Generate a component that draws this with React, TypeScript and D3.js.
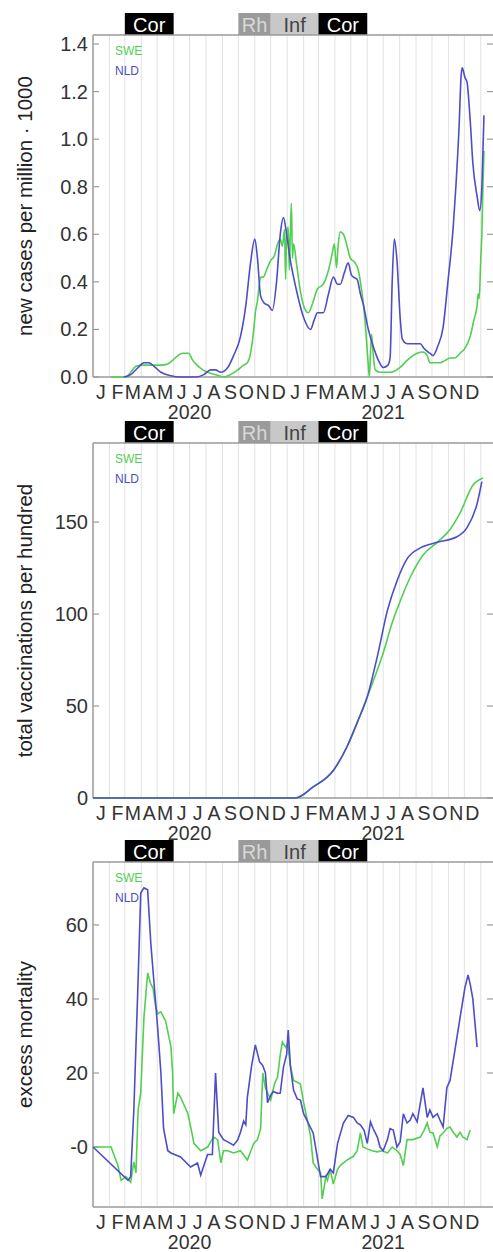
import React from 'react';
import * as d3 from 'd3';

// season bands shown above each panel
const seasonLabels = ['Cor', 'Rh', 'Inf', 'Cor'];
const seasonStarts = ['2020-03-01', '2020-10-01', '2020-12-01', '2021-03-01'];
const seasonEnds = ['2020-06-01', '2020-12-01', '2021-03-01', '2021-06-01'];

const monthLetters = ['J', 'F', 'M', 'A', 'M', 'J', 'J', 'A', 'S', 'O', 'N', 'D'];
const years = [2020, 2021];

const casesTicks = [0, 0.2, 0.4, 0.6, 0.8, 1.0, 1.2, 1.4];
const vaccTicks = [0, 50, 100, 150];
const vaccTickLabels = ['0', '50', '100', '150'];
const mortTicks = [0, 20, 40, 60];
const mortTickLabels = ['-0', '20', '40', '60'];

const casesNLD: [string, number][] = [
  ['2020-02-28', 0], ['2020-03-12', 0.01], ['2020-03-26', 0.04], ['2020-04-06', 0.06], ['2020-04-15', 0.06],
  ['2020-04-25', 0.045], ['2020-05-08', 0.02], ['2020-05-27', 0.005], ['2020-06-14', 0], ['2020-07-13', 0],
  ['2020-07-28', 0.01], ['2020-08-10', 0.03], ['2020-08-19', 0.03], ['2020-08-29', 0.02], ['2020-09-11', 0.04],
  ['2020-09-22', 0.09], ['2020-10-05', 0.17], ['2020-10-15', 0.3], ['2020-10-24', 0.48], ['2020-11-01', 0.58],
  ['2020-11-06', 0.5], ['2020-11-12', 0.34], ['2020-11-19', 0.31], ['2020-11-27', 0.3], ['2020-12-04', 0.28],
  ['2020-12-12', 0.4], ['2020-12-19', 0.6], ['2020-12-25', 0.67], ['2020-12-31', 0.6], ['2021-01-07', 0.49],
  ['2021-01-15', 0.4], ['2021-01-20', 0.35], ['2021-02-01', 0.25], ['2021-02-14', 0.2], ['2021-02-21', 0.24],
  ['2021-02-27', 0.27], ['2021-03-10', 0.27], ['2021-03-20', 0.35], ['2021-03-29', 0.42], ['2021-04-06', 0.39],
  ['2021-04-11', 0.39], ['2021-04-19', 0.44], ['2021-04-26', 0.48], ['2021-05-02', 0.43], ['2021-05-06', 0.42],
  ['2021-05-13', 0.41], ['2021-05-19', 0.35], ['2021-05-24', 0.31], ['2021-06-03', 0.2], ['2021-06-12', 0.13],
  ['2021-06-22', 0.07], ['2021-07-01', 0.04], ['2021-07-10', 0.05], ['2021-07-14', 0.08], ['2021-07-18', 0.4],
  ['2021-07-22', 0.58], ['2021-07-27', 0.49], ['2021-08-02', 0.25], ['2021-08-06', 0.16], ['2021-08-15', 0.14],
  ['2021-08-26', 0.14], ['2021-09-09', 0.14], ['2021-09-16', 0.12], ['2021-09-27', 0.1], ['2021-10-03', 0.09],
  ['2021-10-12', 0.13], ['2021-10-22', 0.21], ['2021-10-31', 0.4], ['2021-11-10', 0.63], ['2021-11-15', 0.8],
  ['2021-11-21', 1.05], ['2021-11-25', 1.27], ['2021-11-27', 1.3], ['2021-12-02', 1.26], ['2021-12-06', 1.24],
  ['2021-12-12', 1.08], ['2021-12-17', 0.9], ['2021-12-25', 0.76], ['2021-12-30', 0.7], ['2022-01-03', 0.8],
  ['2022-01-05', 0.95], ['2022-01-07', 1.1],
];

const casesSWE: [string, number][] = [
  ['2020-02-04', 0], ['2020-03-03', 0], ['2020-03-12', 0.02], ['2020-03-22', 0.045], ['2020-04-04', 0.05],
  ['2020-04-19', 0.05], ['2020-05-08', 0.05], ['2020-05-21', 0.055], ['2020-05-30', 0.07], ['2020-06-09', 0.09],
  ['2020-06-18', 0.1], ['2020-06-29', 0.1], ['2020-07-07', 0.07], ['2020-07-15', 0.05], ['2020-07-26', 0.03],
  ['2020-08-04', 0.02], ['2020-08-19', 0.01], ['2020-09-03', 0], ['2020-09-16', 0.01], ['2020-09-30', 0.03],
  ['2020-10-11', 0.05], ['2020-10-18', 0.06], ['2020-10-24', 0.1], ['2020-10-30', 0.2], ['2020-11-02', 0.27],
  ['2020-11-06', 0.32], ['2020-11-12', 0.42], ['2020-11-17', 0.42], ['2020-11-23', 0.45], ['2020-12-01', 0.49],
  ['2020-12-08', 0.51], ['2020-12-14', 0.56], ['2020-12-19', 0.58], ['2020-12-23', 0.55], ['2020-12-27', 0.62],
  ['2020-12-29', 0.41], ['2020-12-31', 0.6], ['2021-01-03', 0.63], ['2021-01-05', 0.45], ['2021-01-07', 0.6],
  ['2021-01-09', 0.73], ['2021-01-11', 0.5], ['2021-01-13', 0.56], ['2021-01-19', 0.47], ['2021-01-26', 0.36],
  ['2021-02-01', 0.3], ['2021-02-10', 0.27], ['2021-02-18', 0.31], ['2021-02-27', 0.37], ['2021-03-10', 0.39],
  ['2021-03-20', 0.45], ['2021-03-27', 0.52], ['2021-03-31', 0.56], ['2021-04-04', 0.46], ['2021-04-07', 0.55],
  ['2021-04-11', 0.61], ['2021-04-17', 0.6], ['2021-04-24', 0.55], ['2021-04-30', 0.5], ['2021-05-09', 0.48],
  ['2021-05-15', 0.45], ['2021-05-21', 0.37], ['2021-05-26', 0.28], ['2021-05-30', 0.17], ['2021-06-03', 0.05],
  ['2021-06-05', 0], ['2021-06-07', 0.1], ['2021-06-09', 0.18], ['2021-06-12', 0.1], ['2021-06-16', 0.03],
  ['2021-06-25', 0.02], ['2021-07-14', 0.02], ['2021-08-02', 0.04], ['2021-08-15', 0.07], ['2021-08-26', 0.09],
  ['2021-09-03', 0.1], ['2021-09-14', 0.105], ['2021-09-22', 0.09], ['2021-09-27', 0.06], ['2021-10-16', 0.06],
  ['2021-10-26', 0.07], ['2021-11-04', 0.08], ['2021-11-13', 0.08], ['2021-11-23', 0.1], ['2021-12-02', 0.12],
  ['2021-12-12', 0.17], ['2021-12-19', 0.24], ['2021-12-25', 0.3], ['2021-12-27', 0.35], ['2021-12-29', 0.33],
  ['2022-01-01', 0.5], ['2022-01-03', 0.6], ['2022-01-05', 0.8], ['2022-01-07', 0.95],
];

const vaccNLD: [string, number][] = [
  ['2020-01-01', 0], ['2021-01-17', 0], ['2021-02-19', 6], ['2021-03-29', 15], ['2021-04-24', 28],
  ['2021-05-13', 41], ['2021-06-01', 55], ['2021-06-20', 77], ['2021-07-09', 102], ['2021-07-27', 118],
  ['2021-08-15', 130], ['2021-09-09', 136], ['2021-10-11', 139], ['2021-11-17', 142], ['2021-12-06', 147],
  ['2021-12-25', 160], ['2022-01-03', 172],
];

const vaccSWE: [string, number][] = [
  ['2020-01-01', 0], ['2021-01-15', 0], ['2021-02-19', 6], ['2021-03-29', 15], ['2021-04-24', 28],
  ['2021-05-13', 41], ['2021-06-01', 55], ['2021-06-29', 77], ['2021-07-20', 97], ['2021-07-29', 104],
  ['2021-08-21', 120], ['2021-09-14', 132], ['2021-10-11', 139], ['2021-11-04', 146], ['2021-11-23', 155],
  ['2021-12-17', 170], ['2022-01-05', 174],
];

const mortNLD: [string, number][] = [
  ['2020-01-01', 0], ['2020-03-07', -9], ['2020-03-12', -8], ['2020-03-18', 10], ['2020-03-26', 45],
  ['2020-03-31', 68.6], ['2020-04-06', 70], ['2020-04-13', 69.5], ['2020-04-19', 55], ['2020-05-02', 32],
  ['2020-05-08', 20], ['2020-05-13', 5], ['2020-05-21', -1], ['2020-05-27', -1.6], ['2020-06-14', -2.7],
  ['2020-07-03', -5.4], ['2020-07-16', -4.3], ['2020-07-22', -7.6], ['2020-07-28', -5], ['2020-08-04', -2],
  ['2020-08-13', -2], ['2020-08-19', 20], ['2020-08-25', 4], ['2020-09-03', 2], ['2020-09-11', 1.4],
  ['2020-09-22', 0.5], ['2020-09-30', 2], ['2020-10-05', 4], ['2020-10-11', 7], ['2020-10-15', 6],
  ['2020-10-18', 13.5], ['2020-10-26', 22], ['2020-11-02', 27.6], ['2020-11-10', 23], ['2020-11-16', 22],
  ['2020-11-21', 20], ['2020-11-25', 12], ['2020-12-01', 14], ['2020-12-06', 15], ['2020-12-14', 14.5],
  ['2020-12-19', 14.6], ['2020-12-25', 21.6], ['2020-12-31', 25], ['2021-01-03', 31.6], ['2021-01-07', 22],
  ['2021-01-13', 15.4], ['2021-01-20', 13], ['2021-01-26', 12.7], ['2021-02-01', 9], ['2021-02-08', 7],
  ['2021-02-19', 3.8], ['2021-03-05', -8], ['2021-03-15', -8], ['2021-03-23', -6], ['2021-03-29', -7],
  ['2021-04-06', 1], ['2021-04-17', 6.5], ['2021-04-26', 8.5], ['2021-05-06', 8], ['2021-05-13', 6.5],
  ['2021-05-19', 6], ['2021-05-26', 4.5], ['2021-06-01', 1], ['2021-06-07', 6.8], ['2021-06-12', 5],
  ['2021-06-20', 2.7], ['2021-06-25', 0], ['2021-07-01', -1], ['2021-07-09', 2], ['2021-07-14', 5],
  ['2021-07-20', 4.6], ['2021-07-27', 0], ['2021-08-02', 1.4], ['2021-08-08', 9], ['2021-08-15', 6.5],
  ['2021-08-21', 7.3], ['2021-08-26', 9], ['2021-09-03', 6.8], ['2021-09-14', 16], ['2021-09-22', 8],
  ['2021-09-27', 10], ['2021-10-03', 8], ['2021-10-11', 9], ['2021-10-16', 7.3], ['2021-10-22', 5.4],
  ['2021-10-29', 16], ['2021-11-04', 18], ['2021-11-13', 26], ['2021-11-23', 35], ['2021-12-02', 43],
  ['2021-12-08', 46.5], ['2021-12-12', 44], ['2021-12-17', 40], ['2021-12-25', 27],
];

const mortSWE: [string, number][] = [
  ['2020-01-01', 0], ['2020-02-04', 0], ['2020-02-17', -5], ['2020-02-23', -9], ['2020-03-03', -8],
  ['2020-03-12', -9.5], ['2020-03-18', -4], ['2020-03-22', -7], ['2020-03-26', 10], ['2020-03-31', 14.6],
  ['2020-04-06', 35], ['2020-04-13', 47], ['2020-04-19', 44], ['2020-04-23', 43], ['2020-04-28', 38],
  ['2020-05-02', 36], ['2020-05-08', 36.5], ['2020-05-17', 34], ['2020-05-27', 27], ['2020-05-30', 20],
  ['2020-06-01', 9], ['2020-06-09', 14.6], ['2020-06-14', 13.5], ['2020-06-28', 9], ['2020-07-07', 2.7],
  ['2020-07-09', 1], ['2020-07-22', -1], ['2020-08-04', 0], ['2020-08-15', 2.7], ['2020-08-23', 2],
  ['2020-08-29', -4.3], ['2020-09-03', -1], ['2020-09-11', -1], ['2020-09-22', -1.6], ['2020-10-05', -1],
  ['2020-10-18', -3.5], ['2020-10-30', 1], ['2020-11-06', 2], ['2020-11-12', 5], ['2020-11-16', 20],
  ['2020-11-21', 16], ['2020-12-01', 12.7], ['2020-12-08', 17], ['2020-12-14', 19], ['2020-12-19', 25],
  ['2020-12-23', 28.4], ['2020-12-29', 27], ['2021-01-02', 28], ['2021-01-07', 22], ['2021-01-13', 18],
  ['2021-01-20', 17.5], ['2021-01-26', 17], ['2021-02-01', 12], ['2021-02-08', 7.3], ['2021-02-14', 3],
  ['2021-02-19', -4.3], ['2021-02-27', -6], ['2021-03-05', -7], ['2021-03-08', -14], ['2021-03-15', -8],
  ['2021-03-18', -9], ['2021-03-23', -6], ['2021-03-29', -10], ['2021-04-06', -6], ['2021-04-11', -5],
  ['2021-04-24', -3.5], ['2021-05-06', -2.5], ['2021-05-13', -1], ['2021-05-19', 3.8], ['2021-05-24', 0],
  ['2021-06-01', -0.5], ['2021-06-10', -1], ['2021-06-20', -1.3], ['2021-06-29', -1], ['2021-07-09', -1.6],
  ['2021-07-18', 0], ['2021-07-27', -1], ['2021-08-02', -2], ['2021-08-08', -5], ['2021-08-15', 2],
  ['2021-08-26', 2], ['2021-09-09', 2.7], ['2021-09-16', 4.5], ['2021-09-22', 6.5], ['2021-09-27', 4],
  ['2021-10-03', 3.8], ['2021-10-11', 0], ['2021-10-16', 3], ['2021-10-22', 3.8], ['2021-10-29', 5],
  ['2021-11-04', 5.4], ['2021-11-10', 4], ['2021-11-17', 2.7], ['2021-11-23', 4], ['2021-11-28', 2.7],
  ['2021-12-06', 2], ['2021-12-12', 4.6],
];

const W = 493;
const H = 1252;
const LEFT = 93;
const RIGHT = 493;
const GREEN = '#52cf52';
const BLUE = '#4d4dc8';
const AXIS = '#9a9a9a';
const TEXT = '#333';
const FONT = 'Liberation Sans, Arial, sans-serif';

const seasonStyle: Record<string, { fill: string; color: string }> = {
  Cor: { fill: '#000', color: '#fff' },
  Rh: { fill: '#9a9a9a', color: '#d8d8d8' },
  Inf: { fill: '#c8c8c8', color: '#444' },
};

const parse = d3.timeParse('%Y-%m-%d');

const x = d3.scaleTime()
  .domain([new Date(2020, 0, 1), new Date(2022, 0, 24)])
  .range([LEFT, RIGHT]);

const monthStarts = d3.timeMonth.range(new Date(2020, 1, 1), new Date(2022, 1, 1));
const allMonths = d3.timeMonth.range(new Date(2020, 0, 1), new Date(2022, 0, 1));

type Panel = {
  title: string;
  top: number;
  bottom: number;
  domain: [number, number];
  ticks: number[];
  labels: string[];
  swe: [string, number][];
  nld: [string, number][];
  curve: d3.CurveFactory;
};

const panels: Panel[] = [
  {
    title: 'new cases per million · 1000', top: 35, bottom: 377, domain: [0, 1.438],
    ticks: casesTicks, labels: casesTicks.map(d3.format('.1f')),
    swe: casesSWE, nld: casesNLD, curve: d3.curveMonotoneX,
  },
  {
    title: 'total vaccinations per hundred', top: 443, bottom: 798, domain: [0, 193],
    ticks: vaccTicks, labels: vaccTickLabels,
    swe: vaccSWE, nld: vaccNLD, curve: d3.curveMonotoneX,
  },
  {
    title: 'excess mortality', top: 862, bottom: 1207, domain: [-16.2, 77],
    ticks: mortTicks, labels: mortTickLabels,
    swe: mortSWE, nld: mortNLD, curve: d3.curveLinear,
  },
];

const PanelView = ({ p }: { p: Panel }) => {
  const y = d3.scaleLinear().domain(p.domain).range([p.bottom, p.top]);
  const line = d3.line<[string, number]>()
    .x(d => x(parse(d[0]) as Date))
    .y(d => y(d[1]))
    .curve(p.curve);
  const midY = (p.top + p.bottom) / 2;

  return (
    <g>
      {/* month grid */}
      {monthStarts.map((m, i) => (
        <line key={'g' + i} x1={x(m)} x2={x(m)} y1={p.top} y2={p.bottom} stroke="#e2e2e2" strokeWidth={1} />
      ))}

      {/* season bands */}
      {seasonLabels.map((s, i) => {
        const x0 = x(parse(seasonStarts[i]) as Date);
        const x1 = x(parse(seasonEnds[i]) as Date);
        const st = seasonStyle[s];
        return (
          <g key={'s' + i}>
            <rect x={x0} y={p.top - 22} width={x1 - x0} height={22} fill={st.fill} />
            <text x={(x0 + x1) / 2} y={p.top - 3} textAnchor="middle" fontSize={20} fill={st.color}>{s}</text>
          </g>
        );
      })}

      {/* frame */}
      <line x1={LEFT} x2={RIGHT} y1={p.top} y2={p.top} stroke={AXIS} strokeWidth={1.5} />
      <line x1={LEFT} x2={RIGHT} y1={p.bottom} y2={p.bottom} stroke={AXIS} strokeWidth={1.5} />
      <line x1={LEFT} x2={LEFT} y1={p.top} y2={p.bottom} stroke={AXIS} strokeWidth={1.5} />

      {/* y ticks */}
      {p.ticks.map((t, i) => (
        <g key={'t' + i}>
          <line x1={LEFT} x2={LEFT + 6} y1={y(t)} y2={y(t)} stroke={AXIS} strokeWidth={1.2} />
          <line x1={RIGHT - 6} x2={RIGHT} y1={y(t)} y2={y(t)} stroke={AXIS} strokeWidth={1.2} />
          <text x={88} y={y(t)} dy="0.35em" textAnchor="end" fontSize={20} fill={TEXT}>{p.labels[i]}</text>
        </g>
      ))}

      {/* x labels */}
      {allMonths.map((m, i) => (
        <text key={'m' + i} x={x(d3.timeDay.offset(m, 15))} y={p.bottom + 22} textAnchor="middle" fontSize={19.5} fill={TEXT}>
          {monthLetters[m.getMonth()]}
        </text>
      ))}
      {years.map(yr => (
        <text key={'y' + yr} x={x(new Date(yr, 6, 1))} y={p.bottom + 42} textAnchor="middle" fontSize={19.5} fill={TEXT}>{yr}</text>
      ))}

      {/* title */}
      <text transform={`translate(25,${midY}) rotate(-90)`} textAnchor="middle" dy="0.35em" fontSize={20.5} fill="#222">{p.title}</text>

      {/* series */}
      <path d={line(p.swe) || ''} fill="none" stroke={GREEN} strokeWidth={1.6} />
      <path d={line(p.nld) || ''} fill="none" stroke={BLUE} strokeWidth={1.6} />

      {/* legend */}
      <text x={115} y={p.top + 20} fontSize={12} fill={GREEN}>SWE</text>
      <text x={115} y={p.top + 40} fontSize={12} fill={BLUE}>NLD</text>
    </g>
  );
};

export default function App() {
  return (
    <svg width={W} height={H} fontFamily={FONT} style={{ position: 'absolute', left: 0, top: 0, background: '#fff' }}>
      {panels.map((p, i) => <PanelView key={i} p={p} />)}
    </svg>
  );
}
